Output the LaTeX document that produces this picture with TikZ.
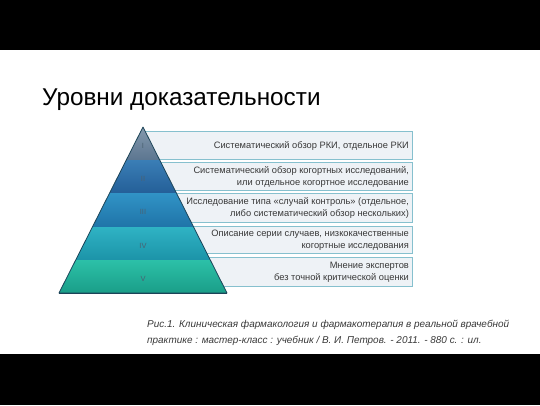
\documentclass[tikz,border=0pt]{standalone}
\usepackage{fontspec}
\setmainfont{Liberation Sans}
\definecolor{boxfill}{HTML}{EEF2F6}
\definecolor{boxline}{HTML}{86C0CE}
\definecolor{bandline}{HTML}{1C4458}
\definecolor{numcol}{HTML}{4A6272}
\definecolor{txtcol}{HTML}{383838}
\definecolor{lvIt}{HTML}{8398AD}
\definecolor{lvIb}{HTML}{5C7690}
\definecolor{lvIIt}{HTML}{3A7EB6}
\definecolor{lvIIb}{HTML}{245F98}
\definecolor{lvIIIt}{HTML}{3193C6}
\definecolor{lvIIIb}{HTML}{1F74A8}
\definecolor{lvIVt}{HTML}{2FB3C4}
\definecolor{lvIVb}{HTML}{1C93A8}
\definecolor{lvVt}{HTML}{2CC0A8}
\definecolor{lvVb}{HTML}{1A9E88}
\tikzset{
  levelbox/.style={draw=boxline,fill=boxfill,line width=1.1pt,inner sep=0pt,anchor=north west,minimum width=272pt},
  leveltext/.style={anchor=east,align=right,text=txtcol,font=\fontsize{9.3}{12}\selectfont,inner sep=0pt},
  levelnum/.style={text=numcol,font=\fontsize{7.5}{8}\selectfont}
}
\begin{document}
\begin{tikzpicture}[x=1pt,y=-1pt]
  \useasboundingbox (0,0) rectangle (540,405);
  \fill[black] (0,0) rectangle (540,50);
  \fill[black] (0,354) rectangle (540,405);
  \node[anchor=base west,inner sep=0pt,font=\fontsize{24.3}{27}\selectfont] (title) at (42,105) {Уровни доказательности};
  \def \Boxes{
    1/131/28/{Систематический обзор РКИ, отдельное РКИ},
    2/162/28/{Систематический обзор когортных исследований,\\или отдельное когортное исследование},
    3/193/29/{Исследование типа «случай контроль» (отдельное,\\либо систематический обзор нескольких)},
    4/226/27/{Описание серии случаев, низкокачественные\\когортные исследования},
    5/257/29/{Мнение экспертов\\без точной критической оценки}}
  \foreach \id / \top / \h / \txt in \Boxes{
    \node[levelbox,minimum height=\h pt] (box\id) at (140,\top) {};
    \node[leveltext] (txt\id) at ([xshift=-4pt]box\id.east) {\txt};
  }
  \def \Bands{
    I/127/160/lvIt/lvIb,
    II/160/193/lvIIt/lvIIb,
    III/193/227/lvIIIt/lvIIIb,
    IV/227/260/lvIVt/lvIVb,
    V/260/293/lvVt/lvVb}
  \foreach \num / \top / \bot / \ct / \cb in \Bands{
    \pgfmathsetmacro\a{(\top-127)*0.506}
    \pgfmathsetmacro\b{(\bot-127)*0.506}
    \shade[top color=\ct,bottom color=\cb] ({143-\a},\top) -- ({143+\a},\top) -- ({143+\b},\bot) -- ({143-\b},\bot) -- cycle;
    \draw[bandline,line width=0.8pt] ({143-\b},\bot) -- ({143+\b},\bot);
    \node[levelnum] (num\num) at (143,{(\top+\bot)/2+2}) {\num};
  }
  \draw[bandline,line width=0.8pt,line join=round] (59,293) -- (143,127) -- (227,293) -- cycle;
  \node[anchor=base west,align=left,inner sep=0pt,text=txtcol,font=\fontsize{9.95}{16}\selectfont\itshape] (caption) at (147,343) {Рис.1. Клиническая фармакология и фармакотерапия в реальной врачебной\\практике : мастер-класс : учебник / В. И. Петров. - 2011. - 880 с. : ил.};
\end{tikzpicture}
\end{document}
